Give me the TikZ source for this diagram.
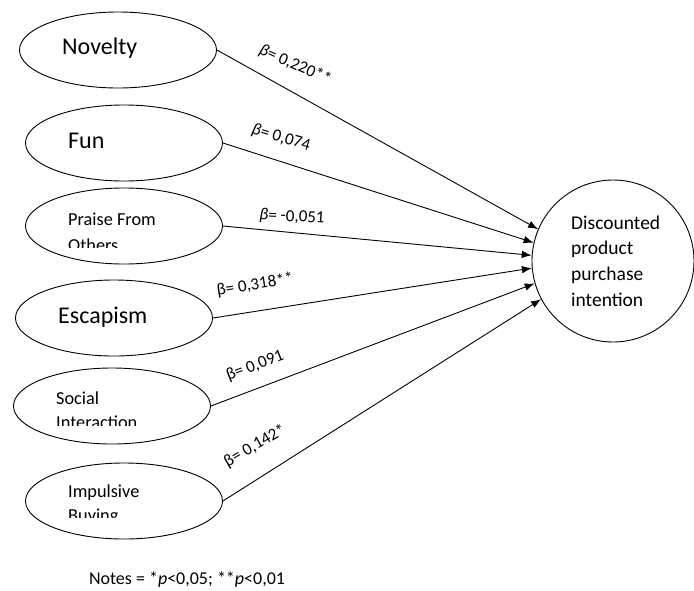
\documentclass[tikz,border=0pt]{standalone}
\usepackage{fontspec}
\setmainfont{Carlito}
\usetikzlibrary{shapes.geometric,arrows.meta}
\begin{document}
\begin{tikzpicture}[x=1pt,y=-1pt,
  oval/.style={draw, ellipse, minimum width=197pt, minimum height=76pt, line width=0.9pt, inner sep=0pt},
  bigtxt/.style={font=\fontsize{24}{28}\selectfont, anchor=base west, inner sep=0pt},
  smalltxt/.style={font=\fontsize{18.3}{23}\selectfont, anchor=base west, inner sep=0pt},
  dpitxt/.style={font=\fontsize{19.5}{24}\selectfont, anchor=base west, inner sep=0pt},
  coef/.style={font=\fontsize{17}{20}\selectfont, inner sep=1pt},
  conn/.style={line width=0.9pt, -{Latex[length=10pt,width=7.5pt]}}
]
\useasboundingbox (0,0) rectangle (694,590);

% exogenous constructs
\node[oval] (nov) at (118,50) {};
\node[oval] (fun) at (124,143) {};
\node[oval] (pra) at (124,226) {};
\node[oval] (esc) at (114,318) {};
\node[oval] (soc) at (112,406) {};
\node[oval] (imp) at (124,501) {};

% endogenous construct
\node[draw, circle, minimum size=162pt, line width=0.9pt, inner sep=0pt] (dpi) at (613,261) {};

% texts
\node[bigtxt] (novt) at (62,54) {Novelty};
\node[bigtxt] (funt) at (68,148) {Fun};
\node[bigtxt] (esct) at (58,323) {Escapism};

\node[smalltxt] (prat1) at (68,225) {Praise From};
\begin{scope}
  \clip (60,235) rectangle (200,247.5);
  \node[smalltxt] (prat2) at (68,251) {Others};
\end{scope}

\node[smalltxt] (soct1) at (56,404) {Social};
\begin{scope}
  \clip (50,412) rectangle (200,425);
  \node[smalltxt] (soct2) at (56,428) {Interaction};
\end{scope}

\node[smalltxt] (impt1) at (68,497) {Impulsive};
\begin{scope}
  \clip (60,505) rectangle (200,517.5);
  \node[smalltxt] (impt2) at (68,521) {Buying};
\end{scope}

\node[dpitxt] (dpi1) at (571,229) {Discounted};
\node[dpitxt] (dpi2) at (571,254) {product};
\node[dpitxt] (dpi3) at (571,280) {purchase};
\node[dpitxt] (dpi4) at (571,306) {intention};

% paths
\draw[conn] (nov.east) -- (dpi.157);
\draw[conn] (fun.east) -- (dpi.167);
\draw[conn] (pra.east) -- (dpi.176);
\draw[conn] (esc.east) -- (dpi.185);
\draw[conn] (soc.east) -- (dpi.196);
\draw[conn] (imp.east) -- (dpi.208);

% coefficients
\node[coef, rotate=-24] (c1) at (295,65) {\textit{β}= 0,220**};
\node[coef, rotate=-16] (c2) at (281,138) {\textit{β}= 0,074};
\node[coef, rotate=-3] (c3) at (292,217) {\textit{β}= -0,051};
\node[coef, rotate=9] (c4) at (255,285) {β= 0,318**};
\node[coef, rotate=21] (c5) at (255,366) {β= 0,091};
\node[coef, rotate=30] (c6) at (255,446) {β= 0,142*};

% notes
\node[font=\fontsize{18}{21}\selectfont, inner sep=0pt] (notes) at (187,580) {Notes = *\textit{p}<0,05; **\textit{p}<0,01};
\end{tikzpicture}
\end{document}
